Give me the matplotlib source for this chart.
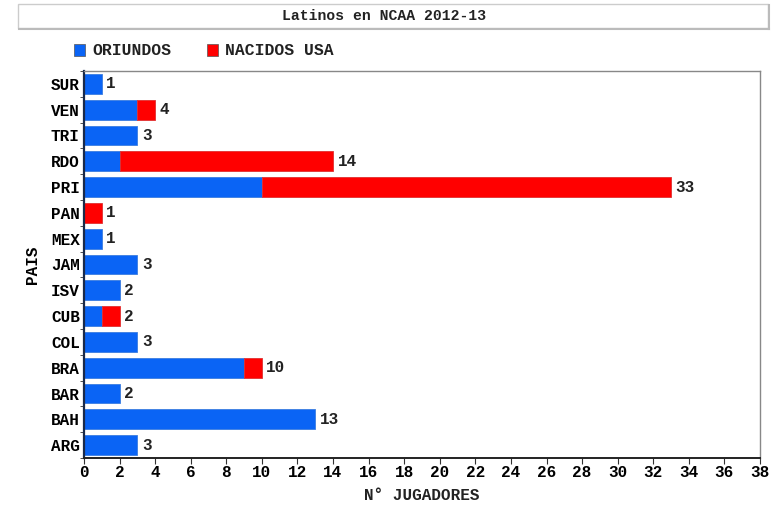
import matplotlib.pyplot as plt
import numpy as np
from matplotlib.patches import Rectangle
from matplotlib.lines import Line2D

paises = ['ARG', 'BAH', 'BAR', 'BRA', 'COL', 'CUB', 'ISV', 'JAM',
          'MEX', 'PAN', 'PRI', 'RDO', 'TRI', 'VEN', 'SUR']
oriundos = [3, 13, 2, 9, 3, 1, 2, 3, 1, 0, 10, 2, 3, 3, 1]
nacidos_usa = [0, 0, 0, 1, 0, 1, 0, 0, 0, 1, 23, 12, 0, 1, 0]
x_ticks = list(range(0, 39, 2))

azul = '#0a64f5'
rojo = '#ff0000'
fnt = 'Liberation Mono'
W, H = 780, 507

fig = plt.figure(figsize=(7.8, 5.07), dpi=100)
fig.patch.set_facecolor('white')
ax = fig.add_axes([84 / W, 1 - 458 / H, (760 - 84) / W, (458 - 71) / H])

y = np.arange(len(paises))
lw_o = [0.6 if v > 0 else 0 for v in oriundos]
lw_n = [0.6 if v > 0 else 0 for v in nacidos_usa]
ax.barh(y, oriundos, height=0.77, color=azul, edgecolor='#3a7de0', linewidth=lw_o)
ax.barh(y, nacidos_usa, left=oriundos, height=0.77, color=rojo, edgecolor='#e03030', linewidth=lw_n)

for i in range(len(paises)):
    total = oriundos[i] + nacidos_usa[i]
    ax.text(total + 0.25, y[i], str(total), va='center', ha='left',
            fontsize=11.5, family=fnt, fontweight='bold', color='#222222')

ax.set_xlim(0, 38)
ax.set_ylim(-0.46, len(paises) - 0.54)
ax.set_xticks(x_ticks)
ax.set_xticklabels([str(t) for t in x_ticks], family=fnt, fontsize=11.5, fontweight='bold')
ax.set_yticks(y)
ax.set_yticklabels(paises, family=fnt, fontsize=11.5, fontweight='bold')
ax.set_yticks(np.arange(len(paises) + 1) - 0.5, minor=True)
ax.tick_params(axis='y', which='major', length=0, pad=3)
ax.tick_params(axis='y', which='minor', length=3, color='#333333')
ax.tick_params(axis='x', length=4, color='#333333', pad=1)

for s in ['top', 'right']:
    ax.spines[s].set_color('#888888')
    ax.spines[s].set_linewidth(1.0)
ax.spines['left'].set_color('#1a2a4a')
ax.spines['left'].set_linewidth(1.6)
ax.spines['bottom'].set_color('#222222')
ax.spines['bottom'].set_linewidth(1.4)

fig.text(422 / W, 1 - 495 / H, 'N° JUGADORES', ha='center', va='center',
         family=fnt, fontsize=11.5, fontweight='bold', color='#222222')
ax.set_ylabel('PAIS', family=fnt, fontsize=11.5, fontweight='bold', labelpad=8)

# caja del titulo
fig.patches.append(Rectangle((18 / W, 1 - 28 / H), (768 - 18) / W, 24 / H,
                             transform=fig.transFigure, facecolor='white',
                             edgecolor='#cccccc', linewidth=1.0))
fig.lines.append(Line2D([19 / W, 769 / W], [1 - 29 / H, 1 - 29 / H],
                        transform=fig.transFigure, color='#bbbbbb', linewidth=1.5))
fig.lines.append(Line2D([769 / W, 769 / W], [1 - 29 / H, 1 - 5 / H],
                        transform=fig.transFigure, color='#bbbbbb', linewidth=1.5))
fig.text(384 / W, 1 - 16 / H, 'Latinos en NCAA 2012-13', ha='center', va='center',
         family=fnt, fontsize=10.6, fontweight='bold', color='#222222')

# leyenda
for xs, col, txt in [(74, azul, 'ORIUNDOS'), (207, rojo, 'NACIDOS USA')]:
    fig.patches.append(Rectangle((xs / W, 1 - 56 / H), 11 / W, 12 / H,
                                 transform=fig.transFigure, facecolor=col,
                                 edgecolor='#555555', linewidth=0.5))
    fig.text((xs + 18) / W, 1 - 50 / H, txt, ha='left', va='center',
             family=fnt, fontsize=11.8, fontweight='bold', color='#222222')

fig.savefig('out.png', dpi=100)
